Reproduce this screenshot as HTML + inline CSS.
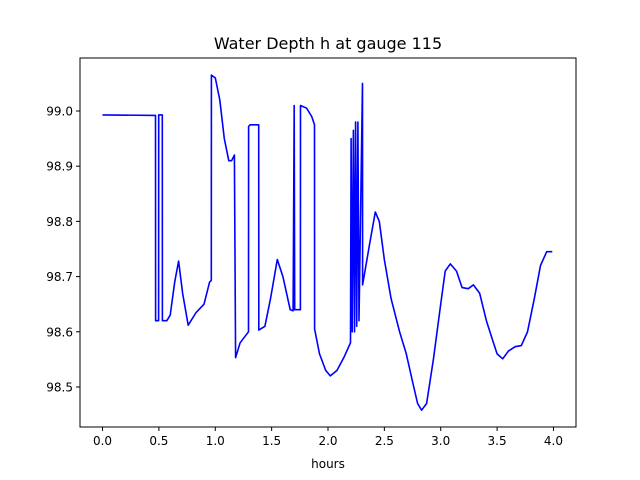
<!DOCTYPE html>
<html><head><meta charset="utf-8"><style>
body{margin:0;background:#fff;}
svg{display:block;font-family:"DejaVu Sans","Liberation Sans",sans-serif;}
</style></head><body>
<svg id="chart" width="640" height="480" viewBox="0 0 640 480" xmlns="http://www.w3.org/2000/svg">
<rect x="0" y="0" width="640" height="480" fill="#fff"/>
<text x="328" y="49" font-size="16" text-anchor="middle">Water Depth h at gauge 115</text>
<g id="xticks"></g>
<g id="yticks"></g>
<path id="line" fill="none" stroke="#0000ff" stroke-width="1.6" stroke-linejoin="round"/>
<rect x="80" y="58" width="496" height="369" fill="none" stroke="#000" stroke-width="1"/>
<text x="328" y="468" font-size="12" text-anchor="middle">hours</text>
</svg>
<script>
const hours = [0,0.47,0.471,0.497,0.498,0.53,0.531,0.57,0.6,0.64,0.675,0.71,0.76,0.83,0.9,0.95,0.965,0.966,1.0,1.04,1.08,1.12,1.145,1.17,1.18,1.22,1.295,1.296,1.31,1.385,1.386,1.44,1.49,1.55,1.6,1.665,1.69,1.70,1.705,1.715,1.755,1.756,1.81,1.855,1.88,1.881,1.925,1.98,2.02,2.08,2.145,2.2,2.205,2.215,2.225,2.235,2.245,2.255,2.265,2.275,2.306,2.307,2.37,2.42,2.455,2.5,2.56,2.635,2.695,2.75,2.795,2.83,2.875,2.935,3.0,3.04,3.085,3.14,3.19,3.245,3.29,3.345,3.405,3.46,3.5,3.55,3.6,3.66,3.715,3.77,3.83,3.885,3.94,3.99];
const depth = [98.993,98.992,98.62,98.62,98.993,98.993,98.62,98.62,98.63,98.69,98.728,98.67,98.612,98.635,98.65,98.69,98.693,99.065,99.06,99.02,98.95,98.91,98.91,98.92,98.553,98.58,98.6,98.972,98.975,98.975,98.603,98.61,98.66,98.731,98.7,98.64,98.638,99.01,98.64,98.64,98.64,99.01,99.005,98.99,98.975,98.605,98.56,98.53,98.52,98.53,98.555,98.58,98.95,98.6,98.965,98.6,98.98,98.61,98.98,98.62,99.05,98.685,98.76,98.817,98.8,98.73,98.66,98.6,98.56,98.51,98.47,98.458,98.47,98.55,98.65,98.71,98.723,98.71,98.68,98.678,98.685,98.67,98.62,98.585,98.56,98.551,98.565,98.573,98.575,98.6,98.66,98.72,98.745,98.745];
const xTicks = [0,0.5,1.0,1.5,2.0,2.5,3.0,3.5,4.0];
const yTicks = [98.5,98.6,98.7,98.8,98.9,99.0];
const L=80,R=576,T=58,B=427, X0=-0.2,X1=4.2, Y0=98.4275,Y1=99.096;
const xs=v=>L+(v-X0)/(X1-X0)*(R-L);
const ys=v=>B-(v-Y0)/(Y1-Y0)*(B-T);
const NS="http://www.w3.org/2000/svg";
const xg=document.getElementById('xticks'), yg=document.getElementById('yticks');
xTicks.forEach(t=>{
  const l=document.createElementNS(NS,'line');
  
  
  l.setAttribute('x1',xs(t));l.setAttribute('x2',xs(t));l.setAttribute('y1',B);l.setAttribute('y2',B+4);l.setAttribute('stroke','#000');
  xg.appendChild(l);
  const tx=document.createElementNS(NS,'text');
  
  
  tx.setAttribute('x',xs(t));tx.setAttribute('y',B+18);tx.setAttribute('font-size','12');tx.setAttribute('text-anchor','middle');
  tx.textContent=t.toFixed(1);xg.appendChild(tx);
});
yTicks.forEach(t=>{
  const l=document.createElementNS(NS,'line');
  
  
  l.setAttribute('x1',L-4);l.setAttribute('x2',L);l.setAttribute('y1',ys(t));l.setAttribute('y2',ys(t));l.setAttribute('stroke','#000');
  yg.appendChild(l);
  const tx=document.createElementNS(NS,'text');
  
  
  tx.setAttribute('x',L-7);tx.setAttribute('y',ys(t)+4.5);tx.setAttribute('font-size','12');tx.setAttribute('text-anchor','end');
  tx.textContent=t.toFixed(1);yg.appendChild(tx);
});
document.getElementById('line').setAttribute('d',hours.map((h,i)=>(i?'L':'M')+xs(h).toFixed(1)+','+ys(depth[i]).toFixed(1)).join(''));
</script>
</body></html>
